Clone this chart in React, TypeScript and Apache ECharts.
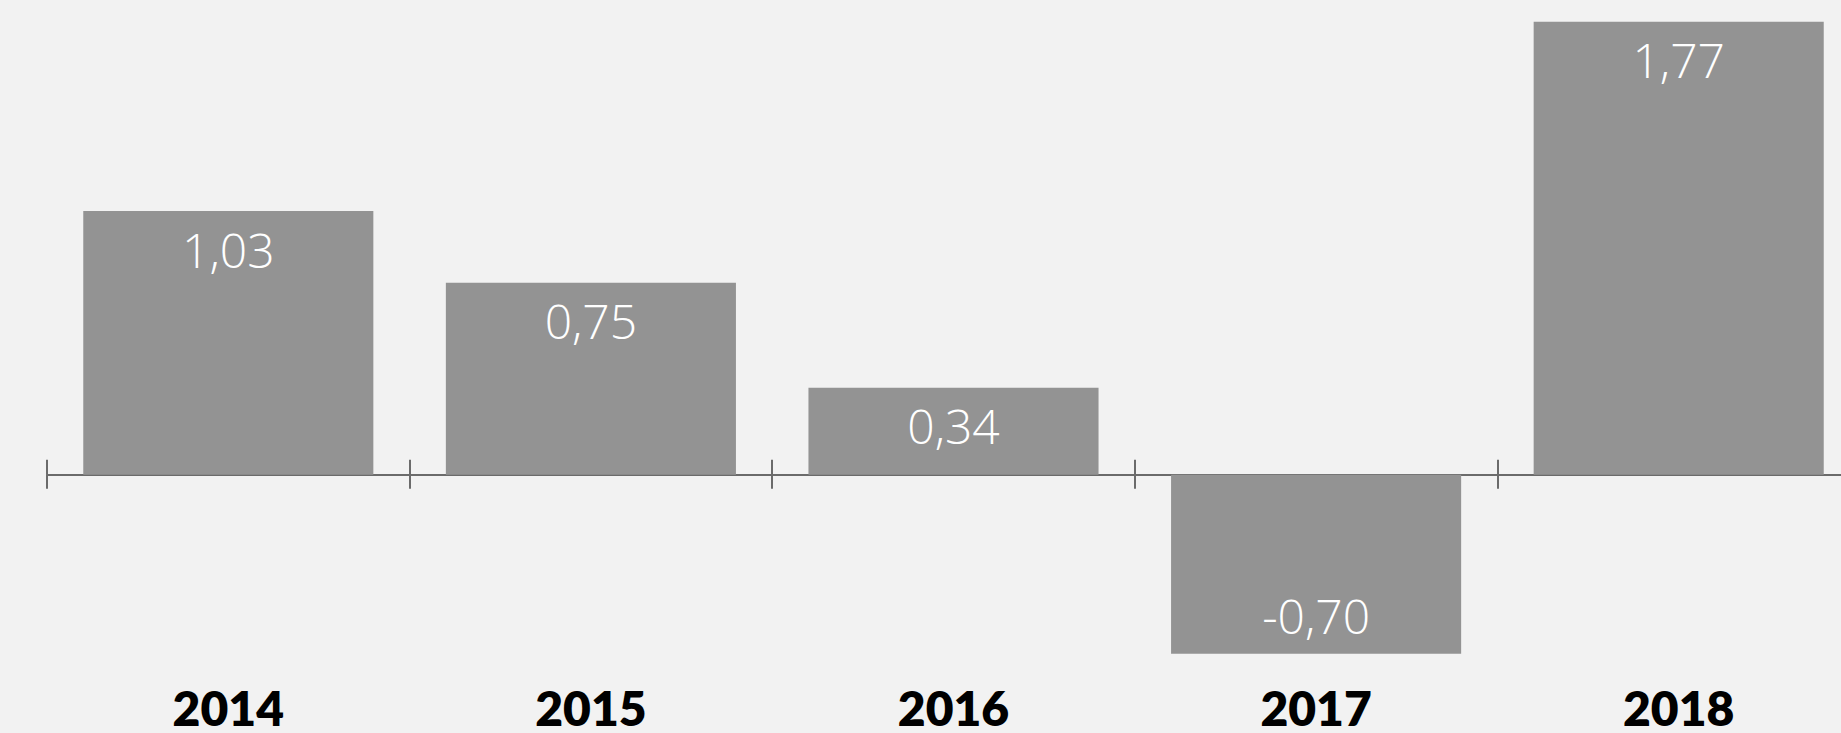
import React, { useEffect, useRef } from "react";
import * as echarts from "echarts";

const categories = ["2014", "2015", "2016", "2017", "2018"];
const values = [1.03, 0.75, 0.34, -0.7, 1.77];

const BG = "#f2f2f2";
const BAR = "#939393";
const AXIS = "#6b6b6b";

export default function App() {
  const ref = useRef<HTMLDivElement>(null);
  useEffect(() => {
    if (!ref.current) return;
    const chart = echarts.init(ref.current, undefined, { renderer: "svg" });
    const fmt = (v: number) => v.toFixed(2).replace(".", ",");
    const yMin = -0.9;
    const yMax = 1.8;
    const top = 14;
    const height = 691;
    const zeroY = top + (yMax / (yMax - yMin)) * height;
    chart.setOption({
      animation: false,
      backgroundColor: BG,
      grid: [
        { left: 47, top, width: 1813, height, containLabel: false, outerBoundsMode: "none" },
        { left: 47, top, width: 1813, height: zeroY - top, containLabel: false, outerBoundsMode: "none" },
      ],
      xAxis: [
        {
          type: "category",
          gridIndex: 0,
          data: categories,
          position: "bottom",
          axisLine: { onZero: true, lineStyle: { color: AXIS, width: 2 } },
          axisTick: { show: true, inside: false, length: 14, lineStyle: { color: AXIS, width: 2 } },
          axisLabel: {
            margin: -22,
            color: "#000",
            fontFamily: "Lato",
            fontWeight: 800,
            fontSize: 48,
          },
        },
        {
          type: "category",
          gridIndex: 1,
          data: categories,
          position: "bottom",
          axisLine: { show: false, onZero: false },
          axisTick: { show: true, inside: true, length: 15, lineStyle: { color: AXIS, width: 2 } },
          axisLabel: { show: false },
        },
      ],
      yAxis: [
        { type: "value", gridIndex: 0, min: yMin, max: yMax, show: false, splitLine: { show: false } },
        { type: "value", gridIndex: 1, min: 0, max: 1, show: false, splitLine: { show: false } },
      ],
      series: [
        {
          type: "bar",
          xAxisIndex: 0,
          yAxisIndex: 0,
          barWidth: "80%",
          itemStyle: { color: BAR },
          label: {
            show: true,
            position: "insideTop",
            distance: 14,
            color: "#fff",
            fontFamily: "Open Sans",
            fontWeight: 300,
            fontSize: 48,
            formatter: (p: any) => fmt(p.value),
          },
          data: values.map((v) =>
            v < 0
              ? { value: v, label: { position: "insideBottom", distance: 14 } }
              : { value: v }
          ),
        },
      ],
    });
    return () => chart.dispose();
  }, []);
  return (
    <div
      ref={ref}
      style={{ position: "absolute", left: 0, top: 0, width: 1841, height: 733, background: BG }}
    />
  );
}
